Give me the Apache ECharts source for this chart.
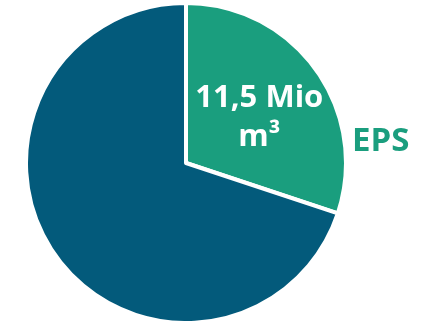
<!DOCTYPE html>
<html>
<head>
<meta charset="utf-8">
<script src="https://cdn.jsdelivr.net/npm/echarts@6/dist/echarts.min.js"></script>
<style>
html,body{margin:0;padding:0;background:#fff;}
#chart{width:421px;height:321px;}
</style>
</head>
<body>
<div id="chart"></div>
<script>
const categories = ["EPS", "Other"];
const values = [11.5, 26.7];
const valueLabels = ["11,5 Mio\nm³", ""];
const colors = ["#1a9e7e", "#035a7b"];

const chart = echarts.init(document.getElementById('chart'), null, {renderer: 'canvas'});
const data = categories.map((c, i) => ({
  name: c,
  value: values[i],
  itemStyle: {color: colors[i]},
  label: {show: i === 0}
}));

chart.setOption({
  animation: false,
  backgroundColor: '#ffffff',
  series: [{
    type: 'pie',
    center: [186, 163],
    radius: [0, 160],
    startAngle: 90,
    clockwise: true,
    data: data,
    itemStyle: {borderColor: '#ffffff', borderWidth: 4},
    label: {
      position: 'inside',
      formatter: p => valueLabels[p.dataIndex],
      color: '#ffffff',
      fontFamily: 'Open Sans',
      fontWeight: 'bold',
      fontSize: 31,
      lineHeight: 39,
      align: 'center',
      offset: [6, 3]
    },
    labelLine: {show: false},
    emphasis: {disabled: true}
  }],
  graphic: [{
    type: 'text',
    left: 352,
    top: 125,
    style: {
      text: categories[0],
      fill: colors[0],
      font: 'bold 33px "Open Sans"'
    }
  }]
});
</script>
</body>
</html>
